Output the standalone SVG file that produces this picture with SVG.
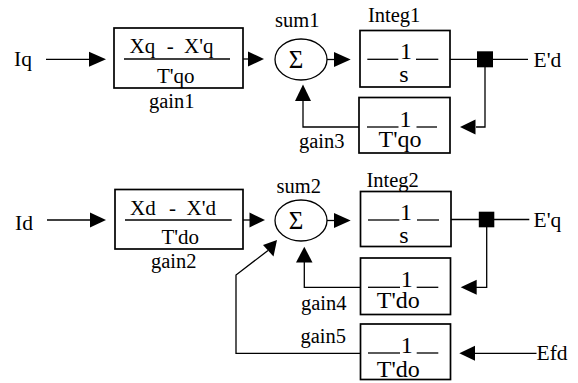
<svg xmlns="http://www.w3.org/2000/svg" width="578" height="383" viewBox="0 0 578 383">
  <style>
    .box { fill: #fff; stroke: #000; stroke-width: 1.7; }
    .ln { fill: none; stroke: #000; stroke-width: 1.3; }
    .frac { fill: none; stroke: #000; stroke-width: 1.3; }
    .ah { fill: #000; stroke: none; }
    text { font-family: "Liberation Serif", "Times New Roman", serif; fill: #000; }
    .lbl { font-size: 20.5px; }
    .io { font-size: 21.5px; }
    .big { font-size: 21px; }
    .num { font-size: 24px; text-anchor: middle; }
    .sig { font-size: 25px; text-anchor: middle; }
  </style>
  <rect width="578" height="383" fill="#fff"/>

  <!-- d-axis loop (top) -->
  <g id="in-Iq"><text class="io" x="14" y="65.5">Iq</text></g>

  <g id="gain1">
    <rect class="box" x="114" y="28" width="129" height="60"/>
    <line class="frac" x1="124" y1="59" x2="230" y2="59"/>
    <text class="big" x="129.5" y="53">Xq</text>
    <text class="big" x="170.2" y="53" text-anchor="middle">-</text>
    <text class="big" x="184" y="53">X'q</text>
    <text class="big" x="157" y="82.5">T'qo</text>
    <text class="lbl" x="149" y="107.5">gain1</text>
  </g>

  <g id="sum1">
    <ellipse class="ln" cx="301" cy="59.5" rx="26" ry="20.5"/>
    <text class="sig" x="296" y="68">Σ</text>
    <text class="lbl" x="275" y="26.7">sum1</text>
  </g>

  <g id="Integ1">
    <rect class="box" x="360" y="30.5" width="90" height="56.5"/>
    <line class="frac" x1="367.3" y1="59.3" x2="398.3" y2="59.3"/>
    <line class="frac" x1="416" y1="59.3" x2="438.3" y2="59.3"/>
    <text class="num" x="406" y="58.5">1</text>
    <text class="num" x="404" y="81.5">s</text>
    <text class="lbl" x="368" y="22">Integ1</text>
  </g>

  <g id="gain3">
    <rect class="box" x="359" y="97.5" width="91" height="55.5"/>
    <line class="frac" x1="367" y1="127" x2="398.5" y2="127"/>
    <line class="frac" x1="416.5" y1="127" x2="437" y2="127"/>
    <text class="num" x="405.5" y="126.5">1</text>
    <text class="num" x="400" y="147">T'qo</text>
    <text class="lbl" x="299" y="148">gain3</text>
  </g>

  <g id="out-Ed"><text class="io" x="533.5" y="67">E'd</text></g>

  <!-- q-axis loop (bottom) -->
  <g id="in-Id"><text class="io" x="15" y="230">Id</text></g>

  <g id="gain2">
    <rect class="box" x="115" y="189.5" width="128" height="59.5"/>
    <line class="frac" x1="125" y1="220" x2="231.7" y2="220"/>
    <text class="big" x="130" y="215">Xd</text>
    <text class="big" x="172.5" y="215" text-anchor="middle">-</text>
    <text class="big" x="186.5" y="215">X'd</text>
    <text class="big" x="161.5" y="243.5">T'do</text>
    <text class="lbl" x="151" y="267.5">gain2</text>
  </g>

  <g id="sum2">
    <ellipse class="ln" cx="301" cy="220.5" rx="26" ry="20.5"/>
    <text class="sig" x="296" y="229">Σ</text>
    <text class="lbl" x="276.5" y="193.3">sum2</text>
  </g>

  <g id="Integ2">
    <rect class="box" x="360.5" y="191.5" width="90.5" height="55"/>
    <line class="frac" x1="368" y1="220" x2="399.3" y2="220"/>
    <line class="frac" x1="417" y1="220" x2="439" y2="220"/>
    <text class="num" x="406" y="219.5">1</text>
    <text class="num" x="404" y="242.5">s</text>
    <text class="lbl" x="366.5" y="187.3">Integ2</text>
  </g>

  <g id="gain4">
    <rect class="box" x="360.5" y="258" width="90" height="56.5"/>
    <line class="frac" x1="368" y1="287.3" x2="400" y2="287.3"/>
    <line class="frac" x1="416.7" y1="287.3" x2="438.3" y2="287.3"/>
    <text class="num" x="406.7" y="287">1</text>
    <text class="num" x="398.3" y="308.3">T'do</text>
    <text class="lbl" x="301" y="309.5">gain4</text>
  </g>

  <g id="gain5">
    <rect class="box" x="360.5" y="324" width="90" height="55.5"/>
    <line class="frac" x1="368" y1="353" x2="400" y2="353"/>
    <line class="frac" x1="416.7" y1="353" x2="438.3" y2="353"/>
    <text class="num" x="406.7" y="352.5">1</text>
    <text class="num" x="398.3" y="376.5">T'do</text>
    <text class="lbl" x="300.5" y="343">gain5</text>
  </g>

  <g id="out-Eq"><text class="io" x="533.5" y="226.7">E'q</text></g>
  <g id="in-Efd"><text class="io" x="536.5" y="359.5">Efd</text></g>

  <g id="connectors">
    <!-- top loop -->
    <line class="ln" x1="46" y1="59.3" x2="90" y2="59.3"/>
    <polygon class="ah" points="106,59.3 89,51.8 89,66.8"/>
    <line class="ln" x1="243" y1="59" x2="249" y2="59"/>
    <polygon class="ah" points="264,59 248,51.5 248,66.5"/>
    <line class="ln" x1="327" y1="59.5" x2="335" y2="59.5"/>
    <polygon class="ah" points="350.7,59.5 334,52 334,67"/>
    <line class="ln" x1="450" y1="59.3" x2="528" y2="59.3"/>
    <rect class="ah" x="477" y="51.3" width="16" height="16"/>
    <polyline class="ln" points="485,59.3 485,127 476,127"/>
    <polygon class="ah" points="460,127 475.5,119.5 475.5,134.5"/>
    <polyline class="ln" points="359,127 303,127 303,100"/>
    <polygon class="ah" points="303,84.5 295,101 311,101"/>

    <!-- bottom loop -->
    <line class="ln" x1="47" y1="220" x2="91" y2="220"/>
    <polygon class="ah" points="106,220 90,212.5 90,227.5"/>
    <line class="ln" x1="243" y1="220" x2="251" y2="220"/>
    <polygon class="ah" points="265,220 249.5,212.5 249.5,227.5"/>
    <line class="ln" x1="327" y1="220.5" x2="335" y2="220.5"/>
    <polygon class="ah" points="350.7,220.5 334,213 334,228"/>
    <line class="ln" x1="451" y1="219.5" x2="529.3" y2="219.5"/>
    <rect class="ah" x="478.8" y="211.7" width="15.5" height="15.6"/>
    <polyline class="ln" points="486.7,219.5 486.7,287.3 476,287.3"/>
    <polygon class="ah" points="460.7,287.3 476.7,279.8 476.7,294.8"/>
    <polyline class="ln" points="360.5,287.3 304.3,287.3 304.3,261"/>
    <polygon class="ah" points="304.3,246.7 296,262.5 312.5,262.5"/>
    <polyline class="ln" points="360.5,353.3 236,353.3 236,275 268,250.5"/>
    <polygon class="ah" points="277,240 263,245 273.5,256.5"/>
    <line class="ln" x1="536.5" y1="353.3" x2="475" y2="353.3"/>
    <polygon class="ah" points="459.3,353.3 475,345.8 475,360.8"/>
  </g>
</svg>
